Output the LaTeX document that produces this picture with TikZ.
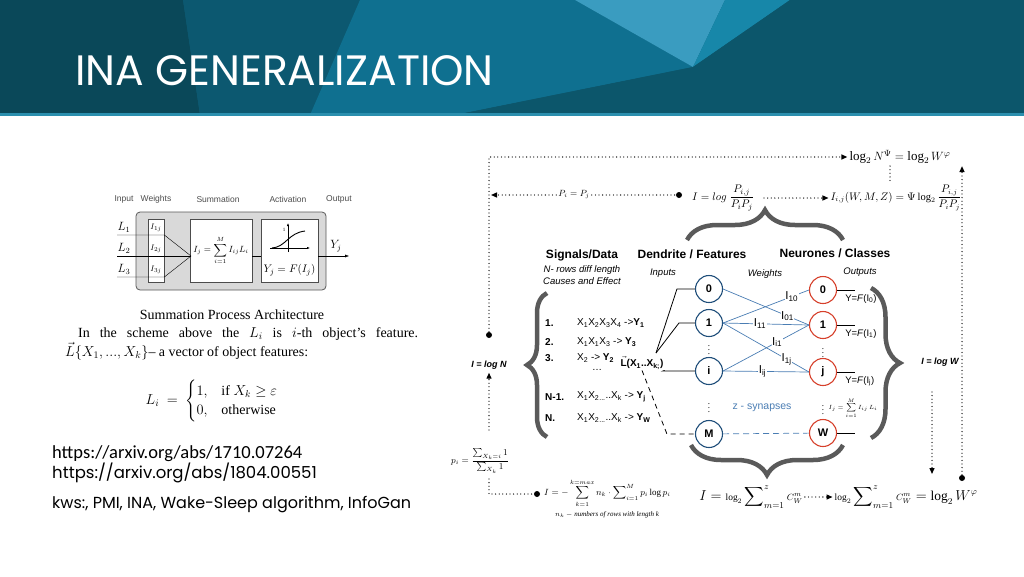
\documentclass[tikz,border=0pt]{standalone}
\usepackage{amsmath}
\usepackage{amssymb}
\usepackage{fontspec}
\setmainfont{Liberation Serif}
\newfontfamily\hel{Liberation Sans}
\newfontfamily\gothic{Poppins}
\newfontfamily\calib{Carlito}
\newcommand{\sx}[1]{X\textsubscript{#1}}
\newcommand{\sy}[1]{\textbf{Y\textsubscript{#1}}}
\usetikzlibrary{arrows.meta, positioning, decorations.pathreplacing, calc}
\definecolor{bannerbase}{HTML}{0D5C73}
\definecolor{bandone}{HTML}{0A4859}
\definecolor{bandtwo}{HTML}{0C5870}
\definecolor{bandthree}{HTML}{0F7090}
\definecolor{bandlight}{HTML}{3A9CC0}
\definecolor{bandmid}{HTML}{1787A9}
\definecolor{bandright}{HTML}{0C566B}
\definecolor{bannerline}{HTML}{2B8FAE}
\definecolor{inblue}{HTML}{1F4E7A}
\definecolor{outred}{HTML}{D6402B}
\definecolor{synblue}{HTML}{4A7DB3}
\definecolor{bracegray}{HTML}{5A5A5A}
\definecolor{panelgray}{HTML}{D9D9D9}
\tikzstyle{inneuron} = [circle, draw=inblue, line width=1.1pt, minimum size=27pt, inner sep=0pt, fill=white, font=\hel\bfseries\fontsize{11}{11}\selectfont]
\tikzstyle{outneuron} = [circle, draw=outred, line width=1.1pt, minimum size=27pt, inner sep=0pt, fill=white, font=\hel\bfseries\fontsize{11}{11}\selectfont]
\tikzstyle{synapse} = [draw=synblue, line width=0.7pt]
\tikzstyle{wire} = [draw=black, line width=0.8pt]
\tikzstyle{wlabel} = [font=\hel\fontsize{11.5}{11.5}\selectfont, fill=white, inner sep=0.5pt]
\tikzstyle{flow} = [line width=1.3pt, line cap=round, dash pattern=on 0pt off 3.6pt]
\tikzstyle{bullet} = [circle, fill=black, inner sep=0pt, minimum size=6pt]
\tikzstyle{bigbrace} = [decorate, draw=bracegray, line width=4.5pt]
\tikzstyle{heading} = [font=\hel\bfseries\fontsize{12}{12}\selectfont]
\tikzstyle{note} = [font=\hel\itshape\fontsize{9.5}{12}\selectfont, inner sep=1pt]
\tikzstyle{rowtext} = [font=\hel\fontsize{10}{10}\selectfont, anchor=west, inner sep=0pt]
\tikzstyle{outlab} = [font=\hel\fontsize{9.5}{9.5}\selectfont, inner sep=0pt]
\tikzstyle{vdot} = [font=\fontsize{9}{9}\selectfont, inner sep=0pt]
\tikzstyle{formula} = [inner sep=2pt]
\tikzstyle{figbox} = [draw=gray!60!black, fill=white, line width=0.7pt, minimum height=63pt]
\tikzstyle{fighead} = [font=\hel\fontsize{8.5}{8.5}\selectfont, text=black!70]
\tikzstyle{loglab} = [font=\hel\bfseries\itshape\fontsize{9}{9}\selectfont]

\begin{document}
\begin{tikzpicture}[x=1pt, y=-1pt, >={Triangle[length=6pt,width=5pt]}]
\useasboundingbox (0,0) rectangle (1024,576);
% banner
\fill[bannerbase] (0,0) rectangle (1024,115);
\fill[bandone] (0,0) -- (183,0) -- (200,115) -- (0,115) -- cycle;
\fill[bandtwo] (183,0) -- (360,0) -- (310,115) -- (200,115) -- cycle;
\fill[bandthree] (360,0) -- (575,0) -- (693,67) -- (455,115) -- (310,115) -- cycle;
\fill[bandlight] (575,0) -- (725,0) -- (693,67) -- cycle;
\fill[bandmid] (725,0) -- (790,0) -- (693,67) -- cycle;
\fill[bandright] (790,0) -- (1024,0) -- (1024,115) -- (455,115) -- (693,67) -- cycle;
\fill[bannerline] (0,113) rectangle (1024,116);
\node[font=\gothic\fontsize{42.5}{42.5}\selectfont, text=white, anchor=base west, inner sep=0pt] (title) at (75,85) {INA GENERALIZATION};

% summation figure
\node[draw=gray!70!black, fill=panelgray, rounded corners=4pt, line width=0.8pt, minimum width=190pt, minimum height=78pt] (panel) at (231,251) {};
\node[figbox, minimum width=16pt] (wcol) at (156,250.5) {};
\node[figbox, minimum width=60pt, font=\fontsize{9}{9}\selectfont] (sumbox) at (221,250.5) {$\displaystyle I_j=\sum_{i=1}^{M} I_{ij}L_i$};
\node[figbox, minimum width=57pt] (actbox) at (289.5,250.5) {};
\node[fighead] (hin) at (124,199) {Input};
\node[fighead] (hw) at (156,199) {Weights};
\node[fighead] (hsum) at (218,199) {Summation};
\node[fighead] (hact) at (288,199) {Activation};
\node[fighead] (hout) at (339,199) {Output};
\coordinate (in1) at (117,235);
\coordinate (in2) at (117,256);
\coordinate (in3) at (117,277);
\coordinate (hub) at (191,256);
\coordinate (yout) at (349,256);
\draw (in1) -- (in1 -| wcol.east) -- (hub);
\draw (in2) -- (hub);
\draw (in3) -- (in3 -| wcol.east) -- (hub);
\draw (sumbox.east |- hub) -- (actbox.west |- hub);
\draw[-{Latex[length=4pt]}] (actbox.east |- hub) -- (yout);
\node[font=\fontsize{12}{12}\selectfont] (l1) at (124,227) {$L_1$};
\node[font=\fontsize{12}{12}\selectfont] (l2) at (124,248) {$L_2$};
\node[font=\fontsize{12}{12}\selectfont] (l3) at (124,269) {$L_3$};
\node[font=\fontsize{8}{8}\selectfont, inner sep=0pt] (w1) at (156,228) {$I_{1j}$};
\node[font=\fontsize{8}{8}\selectfont, inner sep=0pt] (w2) at (156,249) {$I_{2j}$};
\node[font=\fontsize{8}{8}\selectfont, inner sep=0pt] (w3) at (156,270) {$I_{3j}$};
\draw[-{Latex[length=3pt]}, line width=0.5pt] (270,248) -- (310,248);
\draw[-{Latex[length=3pt]}, line width=0.5pt] (288,252) -- (288,223);
\draw[line width=0.9pt] (272,248) .. controls (286,247) and (288,233) .. (305,231);
\node[font=\fontsize{5}{5}\selectfont, inner sep=0pt] (one) at (284,230) {1};
\node[font=\fontsize{11}{11}\selectfont] (yfun) at (289.5,270) {$Y_j = F(I_j)$};
\node[font=\fontsize{12}{12}\selectfont] (yj) at (336,246) {$Y_j$};

% text below the figure
\node[font=\fontsize{14}{14}\selectfont] (cap) at (232,315) {Summation Process Architecture};
\node[anchor=north west, inner sep=0pt, text width=353pt, align=justify, font=\fontsize{14}{19}\selectfont] (para) at (65,327) {\hspace*{13pt}In the scheme above the $L_i$ is $i$-th object's feature.\linebreak $\vec{L}\{X_1,...,X_k\}$-- a vector of object features:};
\node[font=\fontsize{14}{16}\selectfont] (cases) at (212,401) {$L_i\ =\ \begin{cases}1, & \text{if } X_k \geq \varepsilon\\ 0, & \text{otherwise}\end{cases}$};
\node[font=\calib\fontsize{18.5}{18.5}\selectfont, anchor=base west, inner sep=0pt] (url1) at (52,458) {https://arxiv.org/abs/1710.07264};
\node[font=\gothic\fontsize{16.5}{16.5}\selectfont, anchor=base west, inner sep=0pt] (url2) at (52,478) {https://arxiv.org/abs/1804.00551};
\node[font=\gothic\fontsize{16}{16}\selectfont, anchor=base west, inner sep=0pt] (kws) at (52,508) {kws:, PMI, INA, Wake-Sleep algorithm, InfoGan};

% top formulas and flows
\node[formula, font=\fontsize{13}{13}\selectfont] (logeq) at (900,157) {$\log_2 N^{\Psi} = \log_2 W^{\varphi}$};
\node[formula, font=\fontsize{9}{9}\selectfont] (ppeq) at (574,195) {$P_i = P_j$};
\node[bullet] (dotI) at (679,195) {};
\node[formula, font=\fontsize{11}{11}\selectfont] (Ilog) at (723,198) {$I = log\ \dfrac{P_{i,j}}{P_iP_j}$};
\node[formula, font=\fontsize{10.5}{10.5}\selectfont] (Iij) at (896,198) {$I_{i,j}(W,M,Z) = \Psi\log_2\dfrac{P_{i,j}}{P_iP_j}$};
\node[loglab] (logN) at (489,365) {I = log N};
\node[bullet] (dotN) at (489,335) {};
\node[loglab] (logW) at (940,362) {I = log W};
\node[bullet] (dotW) at (962,478) {};
\coordinate (nup) at (489,430);
\coordinate (ndown) at (489,479);
\coordinate (wtop) at (932,392);
\coordinate (wdown) at (932,474);
\draw[flow,->] (dotN) |- (logeq.west);
\draw[flow,->, shorten >=2pt] (ppeq.west) -- (ppeq.west -| dotN);
\draw[flow] (ppeq.east) -- (dotI);
\draw[flow,->, shorten <=8pt] (Ilog.east) -- (Iij.west);
\draw[flow] ([xshift=-10pt]logeq.south) -- ([xshift=-6pt]Iij.north);
\draw[flow,->] (dotW) -- (dotW |- logeq.south);
\draw[flow,->] (nup) -- (logN.south);
\draw[flow,->] (wtop) -- (wdown);

% bottom formulas
\node[font=\fontsize{9}{9}\selectfont] (pform) at (480,461) {$p_i = \dfrac{\sum_{X_k=i} 1}{\sum_{X_k} 1}$};
\node[bullet] (dotE) at (537,494) {};
\draw[flow] (ndown) |- (dotE);
\node[formula, anchor=west, font=\fontsize{9}{9}\selectfont] (entf) at (542,493) {$I = -\displaystyle\sum_{k=1}^{k=max} n_k\cdot\sum\nolimits_{i=1}^{M} p_i\log p_i$};
\node[font=\fontsize{7}{7}\selectfont] (nknote) at (607,515) {$n_k - \mathit{numbers\ of\ rows\ with\ length\ k}$};
\node[formula, font=\fontsize{13.5}{13.5}\selectfont] (sumL) at (751,497) {$I = {\scriptstyle\log_2}\displaystyle\sum\nolimits_{m=1}^{z} {\scriptstyle C_W^m}$};
\node[formula, font=\fontsize{13.5}{13.5}\selectfont] (sumR) at (906,497) {${\scriptstyle\log_2}\displaystyle\sum\nolimits_{m=1}^{z} {\scriptstyle C_W^m} = \log_2 W^{\varphi}$};
\draw[flow,->] (sumL.east) -- (sumR.west);

% braces
\draw[bigbrace, decoration={brace, amplitude=20pt}] (547,437) -- (547,293);
\draw[bigbrace, decoration={brace, amplitude=29pt}] (871,288) -- (871,438);
\draw[bigbrace, decoration={brace, amplitude=30pt}] (687,240) -- (843,240);
\draw[bigbrace, decoration={brace, amplitude=30pt}] (843,445) -- (691,445);

% headings
\node[heading] (sighead) at (582,255) {Signals/Data};
\node[note, below=0pt of sighead, align=center] (signote) {N- rows diff length\\Causes and Effect};
\node[heading] (denhead) at (692,254) {Dendrite / Features};
\node[heading] (neuhead) at (835,253) {Neurones / Classes};
\node[note] (inlab) at (663,273) {Inputs};
\node[note] (wlab) at (765,274) {Weights};
\node[note] (outl) at (860,272) {Outputs};

% rows of data
\node[rowtext] (r1n) at (545,323) {\textbf{1.}};
\node[rowtext] (r1) at (577,323) {\sx{1}\sx{2}\sx{3}\sx{4} ->\sy{1}};
\node[rowtext] (r2n) at (545,342) {\textbf{2.}};
\node[rowtext] (r2) at (577,342) {\sx{1}\sx{1}\sx{3} -> \sy{3}};
\node[rowtext] (r3n) at (545,358) {\textbf{3.}};
\node[rowtext] (r3) at (577,358) {\sx{2} -> \sy{2}};
\node[rowtext] (rdots) at (592,370) {\dots};
\node[rowtext] (r4n) at (545,397) {\textbf{N-1.}};
\node[rowtext] (r4) at (577,397) {\sx{1}\sx{2}\textsubscript{...}..\sx{k} -> \sy{j}};
\node[rowtext] (r5n) at (545,418) {\textbf{N.}};
\node[rowtext] (r5) at (577,418) {\sx{1}\sx{2}\textsubscript{...}..\sx{k} -> \sy{W}};
\node[font=\hel\bfseries\fontsize{10}{10}\selectfont, inner sep=1pt] (lvec) at (642,363) {$\vec{\textbf{L}}$(X\textsubscript{1}..X\textsubscript{k;})};

% neurons
\node[inneuron] (n0) at (709,289) {0};
\node[inneuron] (n1) at (709,323) {1};
\node[inneuron] (ni) at (709,371) {i};
\node[inneuron] (nM) at (709,434) {M};
\node[outneuron] (o0) at (823,290) {0};
\node[outneuron] (o1) at (823,325) {1};
\node[outneuron] (oj) at (823,372) {j};
\node[outneuron] (oW) at (823,433) {W};
\node[vdot] (vd1) at (709,347) {$\vdots$};
\node[vdot] (vd2) at (709,405) {$\vdots$};
\node[vdot] (vd3) at (823,350) {$\vdots$};
\node[vdot] (vd4) at (823,407) {$\vdots$};

% inputs
\coordinate (lhub) at (656,353);
\draw[wire] (lhub) -- ([xshift=-18pt]n0.west) -- (n0.west);
\draw[wire] (lhub) -- ([xshift=-16pt]n1.west) -- (n1.west);
\draw[wire] (lvec.south east) -- ([xshift=-32pt]ni.west) -- (ni.west);
\draw[wire, dash pattern=on 5pt off 4pt] (lvec.south) -- ([xshift=-28pt]nM.west) -- (nM.west);

% synapses
\draw[synapse] (n1.east) -- node[wlabel, pos=0.8] {I\textsubscript{10}} (o0.west);
\draw[synapse] (n0.east) -- node[wlabel, pos=0.75] {I\textsubscript{01}} (o1.west);
\draw[synapse] (n1.east) -- node[wlabel, pos=0.43] {I\textsubscript{11}} (o1.west);
\draw[synapse] (ni.east) -- node[wlabel, pos=0.63] {I\textsubscript{i1}} (o1.west);
\draw[synapse] (n1.east) -- node[wlabel, pos=0.74] {I\textsubscript{1j}} (oj.west);
\draw[synapse] (ni.east) -- node[wlabel, pos=0.46] {I\textsubscript{ij}} (oj.west);
\draw[synapse, dash pattern=on 6pt off 4pt] (nM) -- (oW);
\node[font=\hel\fontsize{10.5}{10.5}\selectfont, text=synblue] (zsyn) at (762,408) {z - synapses};
\node[font=\fontsize{6}{6}\selectfont, inner sep=0pt] (ijsum) at (853,408) {$I_j=\displaystyle\sum_{i=1}^{M} I_{ij}\,L_i$};

% outputs
\draw[wire] (o0.east) -- ([xshift=18pt]o0.east);
\draw[wire] (o1.east) -- ([xshift=18pt]o1.east);
\draw[wire] (oj.east) -- ([xshift=18pt]oj.east);
\draw[wire] (oW.east) -- ([xshift=18pt]oW.east);
\node[outlab, below right=4pt and 8pt] (y0) at (o0.east) {Y=\textit{F}(I\textsubscript{0})};
\node[outlab, below right=4pt and 8pt] (y1) at (o1.east) {Y=\textit{F}(I\textsubscript{1})};
\node[outlab, below right=4pt and 8pt] (yjj) at (oj.east) {Y=\textit{F}(I\textsubscript{j})};
\end{tikzpicture}
\end{document}
